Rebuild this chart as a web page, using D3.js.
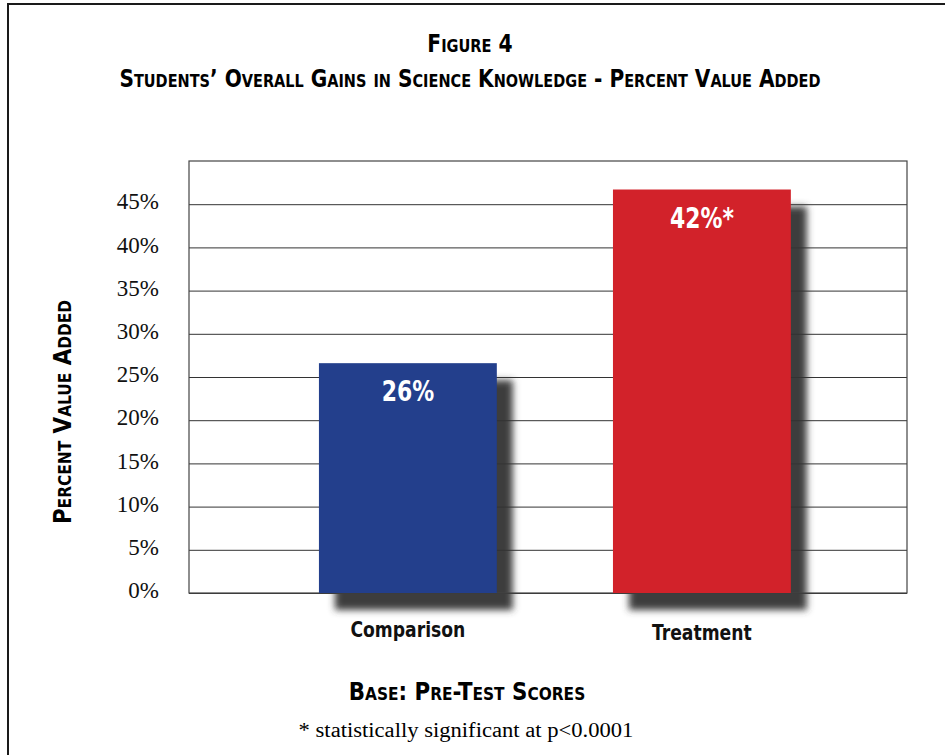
<!DOCTYPE html>
<html>
<head>
<meta charset="utf-8">
<script src="https://cdn.jsdelivr.net/npm/d3@7"></script>
<style>
  body { margin: 0; background: #fff; }
  .cond { font-family: "Liberation Sans Narrow", "DejaVu Sans Condensed", "Arial Narrow", sans-serif; font-weight: bold; font-stretch: condensed; }
  .serif { font-family: "Liberation Serif", "DejaVu Serif", serif; }
</style>
</head>
<body>
<div class="content"></div>
<script>
// data
var categories = ["Comparison", "Treatment"];
var values = [26.6, 46.7];          // drawn bar heights (percent)
var barLabels = ["26%", "42%*"];    // printed on the bars
var barColors = ["#233f8c", "#d2222a"];
var yTicks = [0, 5, 10, 15, 20, 25, 30, 35, 40, 45];

var W = 945, H = 755;
var margin = {top: 161, right: 38, bottom: 162, left: 189},
    width = W - margin.left - margin.right,
    height = H - margin.top - margin.bottom;

var svg = d3.select('.content').append("svg").attr("width", W).attr("height", H);

// squeeze a text horizontally so it looks like the narrow face of the original
function squeeze(sel, k) {
  sel.each(function() {
    var len = this.getComputedTextLength();
    d3.select(this).attr("textLength", len * k).attr("lengthAdjust", "spacingAndGlyphs");
  });
}

var defs = svg.append("defs");
defs.append("filter").attr("id", "blur").attr("x", "-20%").attr("y", "-20%").attr("width", "140%").attr("height", "140%")
  .append("feGaussianBlur").attr("stdDeviation", 3.5);

// outer frame
svg.append("rect").attr("x", 8).attr("y", 4).attr("width", 960).attr("height", 800)
  .attr("fill", "none").attr("stroke", "#1a1a1a").attr("stroke-width", 2);

// titles
svg.append("text").attr("class", "cond").attr("x", 470).attr("y", 52).attr("text-anchor", "middle")
  .style("font-size", "25px").style("font-variant", "small-caps").text("Figure 4").call(squeeze, 0.9);
svg.append("text").attr("class", "cond").attr("x", 470).attr("y", 87).attr("text-anchor", "middle")
  .style("font-size", "25px").style("font-variant", "small-caps")
  .text("Students’ Overall Gains in Science Knowledge - Percent Value Added").call(squeeze, 0.895);

var x = d3.scaleBand().domain(categories).range([0, width])
  .paddingInner(0.395).paddingOuter(0.4185).align(0.528);
var y = d3.scaleLinear().domain([0, 50]).range([height, 0]);

var g = svg.append("g").attr("transform", "translate(" + margin.left + "," + margin.top + ")");

// shadows
g.selectAll("rect.shadow").data(values).enter().append("rect").attr("class", "shadow")
  .attr("x", function(d, i){ return x(categories[i]) + 16; })
  .attr("y", function(d){ return y(d) + 17; })
  .attr("width", x.bandwidth())
  .attr("height", function(d){ return height - y(d); })
  .attr("fill", "#3c3c3c").attr("filter", "url(#blur)");

// gridlines + tick labels
var yAxis = g.append("g").call(d3.axisLeft(y).tickValues(yTicks).tickSize(-width).tickPadding(30)
  .tickFormat(function(d){ return d + "%"; }));
yAxis.select(".domain").remove();
yAxis.selectAll(".tick line").attr("stroke", "#333").attr("stroke-width", 1);
yAxis.selectAll(".tick text").attr("class", "serif").attr("fill", "#111")
  .attr("dy", "0.2em").style("font-size", "23px");

// plot border
g.append("rect").attr("width", width).attr("height", height)
  .attr("fill", "none").attr("stroke", "#444").attr("stroke-width", 1.2);

// bars
g.selectAll("rect.bar").data(values).enter().append("rect").attr("class", "bar")
  .attr("x", function(d, i){ return x(categories[i]); })
  .attr("y", function(d){ return y(d); })
  .attr("width", x.bandwidth())
  .attr("height", function(d){ return height - y(d); })
  .attr("fill", function(d, i){ return barColors[i]; });

g.selectAll("text.blab").data(values).enter().append("text").attr("class", "blab cond")
  .attr("x", function(d, i){ return x(categories[i]) + x.bandwidth() / 2; })
  .attr("y", function(d){ return y(d) + 38; })
  .attr("text-anchor", "middle").attr("fill", "#fff").style("font-size", "29px")
  .text(function(d, i){ return barLabels[i]; }).call(squeeze, 0.84);

// category labels
g.selectAll("text.cat").data(categories).enter().append("text").attr("class", "cat cond")
  .attr("x", function(d){ return x(d) + x.bandwidth() / 2; })
  .attr("y", function(d, i){ return height + 44 + i * 3; })
  .attr("text-anchor", "middle").attr("fill", "#111").style("font-size", "21px")
  .text(function(d){ return d; }).call(squeeze, 0.91);

// y axis title
svg.append("text").attr("class", "cond")
  .attr("transform", "translate(71,412) rotate(-90)").attr("text-anchor", "middle")
  .style("font-size", "25px").style("font-variant", "small-caps").text("Percent Value Added")
  .call(squeeze, 0.95);

// base + footnote
svg.append("text").attr("class", "cond").attr("x", 467).attr("y", 700).attr("text-anchor", "middle")
  .style("font-size", "25px").style("font-variant", "small-caps").text("Base: Pre-Test Scores")
  .call(squeeze, 0.95);
svg.append("text").attr("class", "serif").attr("x", 466).attr("y", 737).attr("text-anchor", "middle")
  .style("font-size", "20px").text("* statistically significant at p<0.0001")
  .call(squeeze, 1.13);
</script>
</body>
</html>
